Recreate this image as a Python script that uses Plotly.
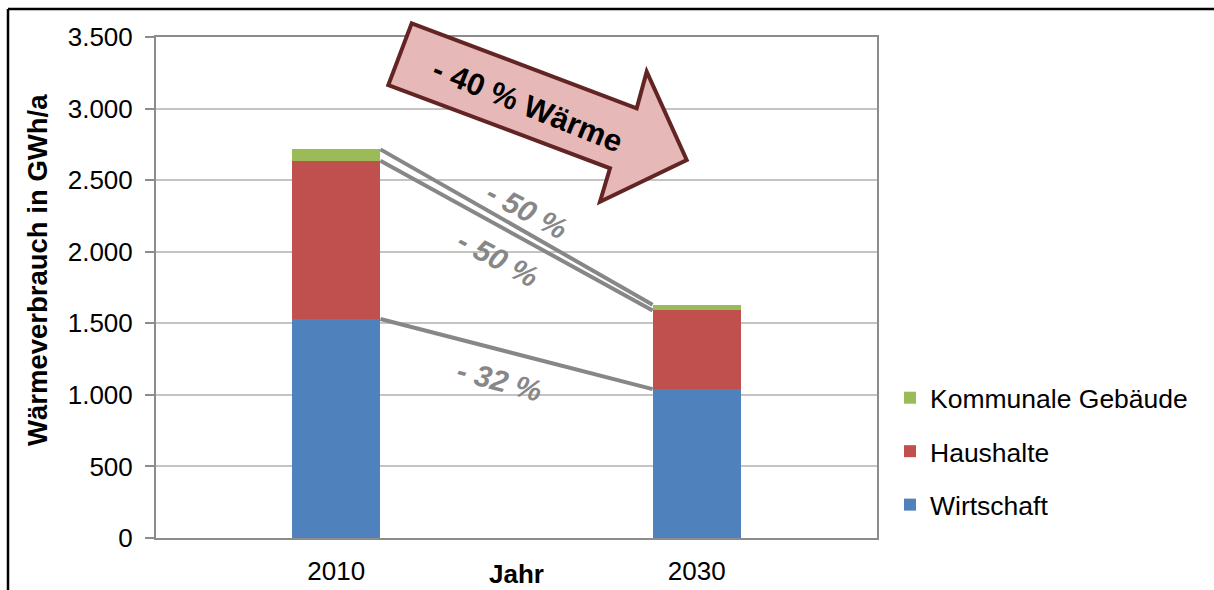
import plotly.graph_objects as go

# ---- data ----
years = ["2010", "2030"]
wirtschaft = [1530, 1040]
haushalte = [1105, 550]
kommunal = [80, 40]
y_ticks = [0, 500, 1000, 1500, 2000, 2500, 3000, 3500]
change_labels = ["- 50 %", "- 50 %", "- 32 %"]
arrow_label = "- 40 % Wärme"

C_W = "#4f81bd"
C_H = "#c0504d"
C_K = "#9bbb59"
FONT = "Liberation Sans, Arial, sans-serif"

W, H = 1214, 590
X0, X1, Y0, Y1 = 156, 877, 538, 37  # plot area in pixels


def px(x):
    return (x - X0) / (X1 - X0)


def py(y):
    return (Y0 - y) / (Y0 - Y1)


xs = list(range(len(years)))
bar_w = 0.245

fig = go.Figure()
fig.add_trace(go.Bar(x=xs, y=wirtschaft, name="Wirtschaft", marker_color=C_W,
                     width=bar_w, legendgroup="w", legendrank=3, marker_line_width=0))
fig.add_trace(go.Bar(x=xs, y=haushalte, name="Haushalte", marker_color=C_H,
                     width=bar_w, legendgroup="h", legendrank=2, marker_line_width=0))
fig.add_trace(go.Bar(x=xs, y=kommunal, name="Kommunale Gebäude", marker_color=C_K,
                     width=bar_w, legendgroup="k", legendrank=1, marker_line_width=0))

# connector lines between stack tops
edge = [xs[0] + bar_w / 2, xs[1] - bar_w / 2]
cum_w = wirtschaft
cum_h = [a + b for a, b in zip(wirtschaft, haushalte)]
cum_k = [a + b + c for a, b, c in zip(wirtschaft, haushalte, kommunal)]
for cum in (cum_k, cum_h, cum_w):
    fig.add_trace(go.Scatter(x=edge, y=cum, mode="lines", showlegend=False,
                             line=dict(color="#878787", width=4), hoverinfo="skip"))

# arrow polygon (decoration) in pixel positions
arrow_pts = [(411.7, 23.3), (636.7, 108.3), (646.7, 71.7), (686.7, 160),
             (600, 201.7), (610, 168.3), (388.3, 85)]
path = "M " + " L ".join(f"{px(x):.5f},{py(y):.5f}" for x, y in arrow_pts) + " Z"

shapes = [
    dict(type="path", xref="paper", yref="paper", path=path,
         fillcolor="#e6b9b8", line=dict(color="#632523", width=4), layer="above"),
    # outer frame (top and left)
    dict(type="line", xref="paper", yref="paper", x0=px(8), x1=px(1216), y0=py(9), y1=py(9),
         line=dict(color="black", width=2.5)),
    dict(type="line", xref="paper", yref="paper", x0=px(8), x1=px(8), y0=py(9), y1=py(592),
         line=dict(color="black", width=2.5)),
]


def ann(text, x, y, size, color="black", angle=0):
    return dict(text=text, x=px(x), y=py(y), xref="paper", yref="paper",
                xanchor="center", yanchor="middle", showarrow=False, textangle=angle,
                font=dict(family=FONT, size=size, color=color))


annotations = [
    ann(f"<b>{arrow_label}</b>", 528, 105, 31, angle=22),
    ann(f"<b><i>{change_labels[0]}</i></b>", 527, 210, 30, "#878787", 28),
    ann(f"<b><i>{change_labels[1]}</i></b>", 498, 258, 30, "#878787", 28),
    ann(f"<b><i>{change_labels[2]}</i></b>", 499, 381, 30, "#878787", 15),
    ann("<b>Jahr</b>", 516, 574, 26),
    ann("<b>Wärmeverbrauch in GWh/a</b>", 37, 270, 27.5, angle=-90),
]

fig.update_layout(
    width=W, height=H,
    margin=dict(l=X0, r=W - X1, t=Y1, b=H - Y0, pad=0, autoexpand=False),
    barmode="stack",
    plot_bgcolor="white", paper_bgcolor="white",
    separators=",.",
    font=dict(family=FONT, size=26, color="black"),
    shapes=shapes, annotations=annotations,
    legend=dict(x=px(890), y=py(374), xanchor="left", yanchor="top",
                traceorder="grouped", tracegroupgap=16,
                font=dict(family=FONT, size=26.5, color="black"),
                bgcolor="rgba(0,0,0,0)"),
    xaxis=dict(range=[-0.5, 1.5], tickvals=xs, ticktext=years, showgrid=False,
               zeroline=False, showline=True, linecolor="#8c8c8c", linewidth=2, mirror=True,
               ticks="", ticklabelstandoff=9, tickfont=dict(size=26), automargin=False),
    yaxis=dict(range=[0, 3500], tickvals=y_ticks, separatethousands=True, tickformat=",d",
               showgrid=True, gridcolor="#c4c4c4", gridwidth=2, zeroline=False,
               showline=True, linecolor="#8c8c8c", linewidth=2, mirror=True,
               ticks="outside", ticklen=9, tickwidth=2, tickcolor="#8c8c8c",
               ticklabelstandoff=7, tickfont=dict(size=26), automargin=False),
)

fig.write_html("out.html", config={"displayModeBar": False},
               post_script="document.body.style.margin='0';")
